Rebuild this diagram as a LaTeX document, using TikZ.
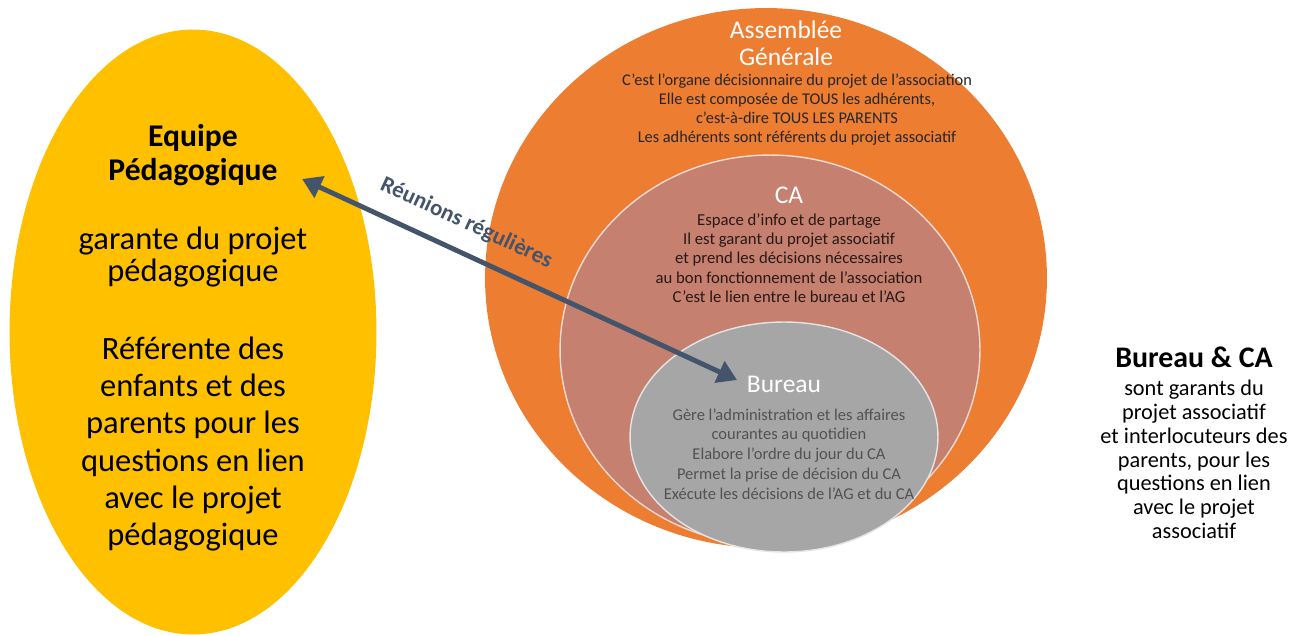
\documentclass[tikz,border=0pt]{standalone}
\usepackage{fontspec}
\setmainfont{Carlito}
\usepackage{xcolor}
\usetikzlibrary{shapes.geometric, arrows.meta, positioning}

\definecolor{jaune}{HTML}{FFC000}
\definecolor{agOrange}{HTML}{ED7D31}
\definecolor{caRose}{HTML}{C5806F}
\definecolor{bureauGris}{HTML}{A6A6A6}
\definecolor{lienBleu}{HTML}{44546A}

\begin{document}
\begin{tikzpicture}[
    x=0.02cm, y=-0.02cm,
    zone/.style={ellipse, inner sep=0pt},
    titre/.style={text=white, align=center, font=\fontsize{14.5}{15.3}\selectfont},
    corps/.style={align=center, font=\fontsize{9.3}{10.8}\selectfont},
    lien/.style={line width=2.8pt, draw=lienBleu, {Triangle[length=11pt,width=13pt]}-{Triangle[length=11pt,width=13pt]}}
]
\useasboundingbox (0,0) rectangle (1300,635);

   % Ellipses
   \node[zone, fill=jaune, minimum width=7.34cm, minimum height=12.1cm] (equipe) at (193,332) {};
   \node[zone, fill=agOrange, minimum width=11.24cm, minimum height=10.8cm] (ag) at (766,278) {};
   \node[zone, fill=caRose, draw=white!70!caRose, line width=0.8pt, minimum width=8.4cm, minimum height=7.8cm] (ca) at (770,350) {};
   \node[zone, fill=bureauGris, draw=white!70!bureauGris, line width=0.8pt, minimum width=6.16cm, minimum height=4.6cm] (bureau) at (784,437) {};

   % Equipe pedagogique
   \node[align=center, font=\fontsize{18}{19.3}\selectfont\bfseries] (equipeTitre) at (193,155) {Equipe\\Pédagogique};
   \node[align=center, font=\fontsize{18.5}{18.7}\selectfont] (equipeGarante) at (193,257) {garante du projet\\pédagogique};
   \node[align=center, font=\fontsize{18.5}{21.2}\selectfont] (equipeRef) at (193,444) {Référente des\\enfants et des\\parents pour les\\questions en lien\\avec le projet\\pédagogique};

   % Assemblee generale
   \node[titre] (agTitre) at (786,43) {Assemblée\\Générale};
   \node[corps, text=black!85] (agTexte) at (797,110) {C’est l’organe décisionnaire du projet de l’association\\Elle est composée de TOUS les adhérents,\\c’est-à-dire TOUS LES PARENTS\\Les adhérents sont référents du projet associatif};

   % CA
   \node[titre] (caTitre) at (789,195) {CA};
   \node[corps, font=\fontsize{9.5}{11}\selectfont, text=black!80!caRose] (caTexte) at (789,258) {Espace d’info et de partage\\Il est garant du projet associatif\\et prend les décisions nécessaires\\au bon fonctionnement de l’association\\C’est le lien entre le bureau et l’AG};

   % Bureau
   \node[titre] (bureauTitre) at (784,384) {Bureau};
   \node[corps, font=\fontsize{9.4}{11.3}\selectfont, text=black!68] (bureauTexte) at (789,454) {Gère l'administration et les affaires\\courantes au quotidien\\Elabore l’ordre du jour du CA\\Permet la prise de décision du CA\\Exécute les décisions de l’AG et du CA};

   % Bureau & CA
   \node[font=\fontsize{17}{18}\selectfont\bfseries] (droitTitre) at (1194,357) {Bureau \& CA};
   \node[align=center, font=\fontsize{12.7}{13.6}\selectfont, below=0pt of droitTitre] (droitTexte) {sont garants du\\projet associatif\\et interlocuteurs des\\parents, pour les\\questions en lien\\avec le projet\\associatif};

   % Reunions
   \coordinate (pedaTip) at (302,179);
   \coordinate (bureauTip) at (737,380);
   \draw[lien] (pedaTip) -- (bureauTip)
      node[pos=0.35, sloped, above=6pt, font=\fontsize{13}{14}\selectfont\bfseries, text=lienBleu] (reunions) {Réunions régulières};
\end{tikzpicture}
\end{document}
